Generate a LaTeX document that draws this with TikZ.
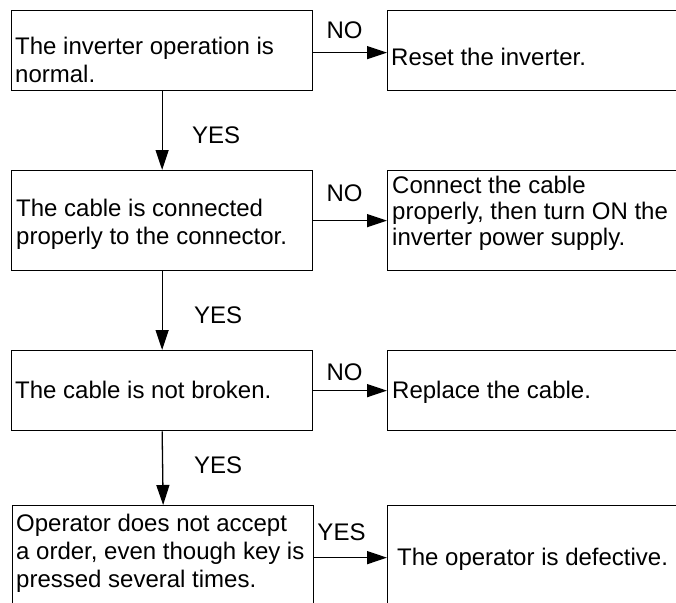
\documentclass[tikz,border=0pt]{standalone}
\usepackage{fontspec}
\setmainfont{Liberation Sans}
\usetikzlibrary{arrows.meta}
\tikzset{
  box/.style={draw, line width=1.3pt, rectangle, inner sep=0pt, anchor=north west},
  txt/.style={inner sep=0pt, anchor=north west, align=left,
    font=\fontsize{24pt}{28pt}\selectfont},
  txtt/.style={txt, font=\fontsize{24pt}{26pt}\selectfont},
  lbl/.style={inner sep=0pt, anchor=base, font=\fontsize{24pt}{28pt}\selectfont},
  lblw/.style={lbl, anchor=base west},
  arr/.style={line width=1.3pt, -{Triangle[length=20pt,width=13pt]}},
}
\begin{document}
\begin{tikzpicture}[x=1pt,y=-1pt]
\useasboundingbox (0,0) rectangle (676,602);
\clip (0,0) rectangle (676,602);
\fill[white] (0,0) rectangle (676,602);

% question boxes (left column)
\node[box, minimum width=301pt, minimum height=80pt]  (q1) at (11,10)  {};
\node[box, minimum width=301pt, minimum height=100pt] (q2) at (11,170) {};
\node[box, minimum width=301pt, minimum height=80pt]  (q3) at (11,350) {};
\node[box, minimum width=301pt, minimum height=104pt] (q4) at (12,505) {};

% remedy boxes (right column, running past the page edge)
\node[box, minimum width=320pt, minimum height=80pt]  (r1) at (387,10)  {};
\node[box, minimum width=320pt, minimum height=100pt] (r2) at (387,170) {};
\node[box, minimum width=320pt, minimum height=80pt]  (r3) at (387,350) {};
\node[box, minimum width=320pt, minimum height=104pt] (r4) at (387,505) {};

% box texts
\node[txt] (tq1) at (15,36.5)  {The inverter operation is\\normal.};
\node[txt] (tr1) at (391,47.5) {Reset the inverter.};
\node[txt] (tq2) at (16,198.5) {The cable is connected\\properly to the connector.};
\node[txtt] (tr2) at (392,176) {Connect the cable\\properly, then turn ON the\\inverter power supply.};
\node[txt] (tq3) at (15,380.5) {The cable is not broken.};
\node[txt] (tr3) at (392,380.5){Replace the cable.};
\node[txt] (tq4) at (16,514)   {Operator does not accept\\a order, even though key is\\pressed several times.};
\node[txt] (tr4) at (397,547.5){The operator is defective.};

% connectors
\draw[arr] (q1.south) -- (q2.north);
\draw[arr] (q2.south) -- (q3.north);
\draw[arr] (q3.south) -- (q4.north);
\draw[arr] ([yshift=-2pt]q1.east) -- ([yshift=-2pt]q1.east -| r1.west);
\draw[arr] (q2.east) -- (r2.west);
\draw[arr] (q3.east) -- (r3.west);
\draw[arr] (q4.east) -- (r4.west);

% branch labels
\node[lbl] (n1) at (344.5,38)  {NO};
\node[lbl] (n2) at (344.5,201) {NO};
\node[lbl] (n3) at (344.5,380) {NO};
\node[lbl] (y4) at (341.5,540) {YES};
\node[lblw] (y1) at (192,143) {YES};
\node[lblw] (y2) at (194,323) {YES};
\node[lblw] (y3) at (194,473) {YES};
\end{tikzpicture}
\end{document}
